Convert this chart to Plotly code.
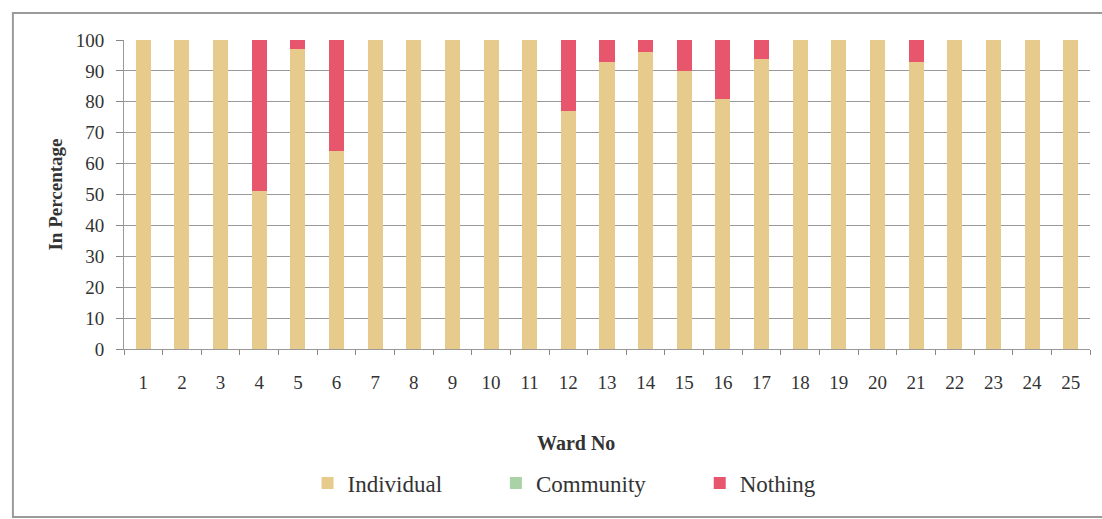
import plotly.graph_objects as go

wards = [str(i) for i in range(1, 26)]
individual = [100, 100, 100, 51, 97, 64, 100, 100, 100, 100, 100, 77, 93,
              96, 90, 81, 94, 100, 100, 100, 93, 100, 100, 100, 100]
community = [0] * 25
nothing = [0, 0, 0, 49, 3, 36, 0, 0, 0, 0, 0, 23, 7, 4, 10, 19, 6, 0, 0, 0,
           7, 0, 0, 0, 0]

FONT = "Liberation Serif, DejaVu Serif, serif"
TEXT = "#333333"

fig = go.Figure()
fig.add_bar(x=wards, y=individual, name="Individual",
            marker_color="#E6CB8C", legend="legend")
fig.add_bar(x=wards, y=community, name="Community",
            marker_color="#A9D3A6", legend="legend2")
fig.add_bar(x=wards, y=nothing, name="Nothing",
            marker_color="#E8566E", legend="legend3")
fig.update_traces(marker_line_width=0, width=0.39)

legend_style = dict(orientation="h", xanchor="left", y=-0.434,
                    yanchor="middle", font=dict(size=23, color=TEXT),
                    itemwidth=30, bgcolor="rgba(0,0,0,0)")

fig.update_layout(
    barmode="stack",
    width=1102, height=519,
    margin=dict(l=124, r=12, t=40, b=170),
    paper_bgcolor="white", plot_bgcolor="white",
    font=dict(family=FONT, size=19, color=TEXT),
    showlegend=True,
    legend=dict(x=0.19, **legend_style),
    legend2=dict(x=0.385, **legend_style),
    legend3=dict(x=0.596, **legend_style),
    xaxis=dict(
        type="category", showgrid=False, ticks="outside", tickson="boundaries",
        ticklen=5, tickcolor="#888888", showline=True, linecolor="#999999",
        linewidth=1, ticklabelstandoff=16,
        tickfont=dict(size=19, color=TEXT),
    ),
    yaxis=dict(
        range=[0, 100], dtick=10, showgrid=True, gridcolor="#9a9a9a",
        gridwidth=1, ticks="outside", ticklen=7, tickcolor="#888888",
        showline=True, linecolor="#999999", linewidth=1, zeroline=False,
        ticklabelstandoff=8,
        tickfont=dict(size=19, color=TEXT),
        title=dict(text="<b>In Percentage</b>",
                   font=dict(size=19, color=TEXT), standoff=8),
    ),
    annotations=[dict(text="<b>Ward No</b>", xref="paper", yref="paper",
                      x=0.468, y=-0.304, xanchor="center", yanchor="middle",
                      showarrow=False, font=dict(size=20, color=TEXT))],
    shapes=[dict(type="rect", xref="paper", yref="paper",
                 x0=-0.115, x1=1.02, y0=-0.544, y1=1.087,
                 line=dict(color="#9a9a9a", width=2))],
)

fig.write_html("out.html")
